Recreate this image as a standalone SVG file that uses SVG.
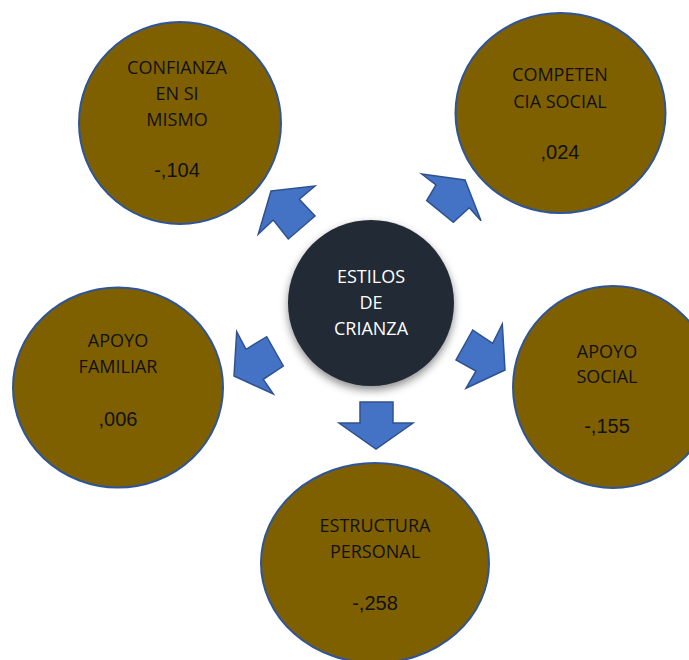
<svg xmlns="http://www.w3.org/2000/svg" width="689" height="660" viewBox="0 0 689 660">
<defs>
<filter id="sh" x="-20%" y="-20%" width="140%" height="150%">
<feDropShadow dx="0" dy="4" stdDeviation="4" flood-color="#000" flood-opacity="0.45"/>
</filter>
<style>
.node{fill:#7f6000;stroke:#2f5597;stroke-width:2}
.lbl{font-family:"Open Sans","Noto Sans",sans-serif;font-size:18px;fill:#111;text-anchor:middle}
.num{font-family:"Liberation Sans",Arial,sans-serif;font-size:20px;fill:#111;text-anchor:middle}
.arr{fill:#4472c4;stroke:#2f528f;stroke-width:1.5;stroke-linejoin:miter}
.ctr{font-family:"Open Sans","Noto Sans",sans-serif;font-size:18px;fill:#fff;text-anchor:middle}
</style>
</defs>
<rect width="689" height="660" fill="#fff"/>
<g id="connectors">
<polygon class="arr" points="271,191 315,186 299.3,199.3 315,216 288.3,239 273.3,220 258.3,234"/>
<polygon class="arr" points="421.7,174 465,180 481,220.7 469.3,207.7 453.3,222.3 426.7,200.7 436,185"/>
<polygon class="arr" points="234,376 236.7,331.7 246,349.3 266.7,336.7 283.3,366 263.3,379.3 273.3,394"/>
<polygon class="arr" points="505,370 466,388.3 476,371 456,360 472.7,330 492.7,343.3 502.3,324"/>
<polygon class="arr" points="360,402 393,402 393,423 413,423 376,449 339,423 360,423"/>
</g>
<g id="node-confianza">
<ellipse class="node" cx="180" cy="123" rx="101" ry="101"/>
<text class="lbl" x="177" y="74">CONFIANZA</text>
<text class="lbl" x="177" y="100">EN SI</text>
<text class="lbl" x="177" y="126">MISMO</text>
<text class="num" x="177" y="177">-,104</text>
</g>
<g id="node-competencia">
<ellipse class="node" cx="560.5" cy="113" rx="105" ry="100"/>
<text class="lbl" x="560" y="81">COMPETEN</text>
<text class="lbl" x="560" y="108">CIA SOCIAL</text>
<text class="num" x="560" y="159">,024</text>
</g>
<g id="node-apoyo-familiar">
<ellipse class="node" cx="118" cy="387.5" rx="105" ry="100"/>
<text class="lbl" x="118" y="347">APOYO</text>
<text class="lbl" x="118" y="373">FAMILIAR</text>
<text class="num" x="118" y="426">,006</text>
</g>
<g id="node-apoyo-social">
<ellipse class="node" cx="613" cy="387" rx="100" ry="101"/>
<text class="lbl" x="607" y="358">APOYO</text>
<text class="lbl" x="607" y="383">SOCIAL</text>
<text class="num" x="607" y="433">-,155</text>
</g>
<g id="node-estructura">
<ellipse class="node" cx="375" cy="563" rx="114" ry="100"/>
<text class="lbl" x="375" y="532">ESTRUCTURA</text>
<text class="lbl" x="375" y="558">PERSONAL</text>
<text class="num" x="375" y="610">-,258</text>
</g>
<g id="node-estilos">
<circle cx="371" cy="303" r="83" fill="#222a35" filter="url(#sh)"/>
<text class="ctr" x="371" y="283">ESTILOS</text>
<text class="ctr" x="371" y="309">DE</text>
<text class="ctr" x="371" y="335">CRIANZA</text>
</g>
</svg>
